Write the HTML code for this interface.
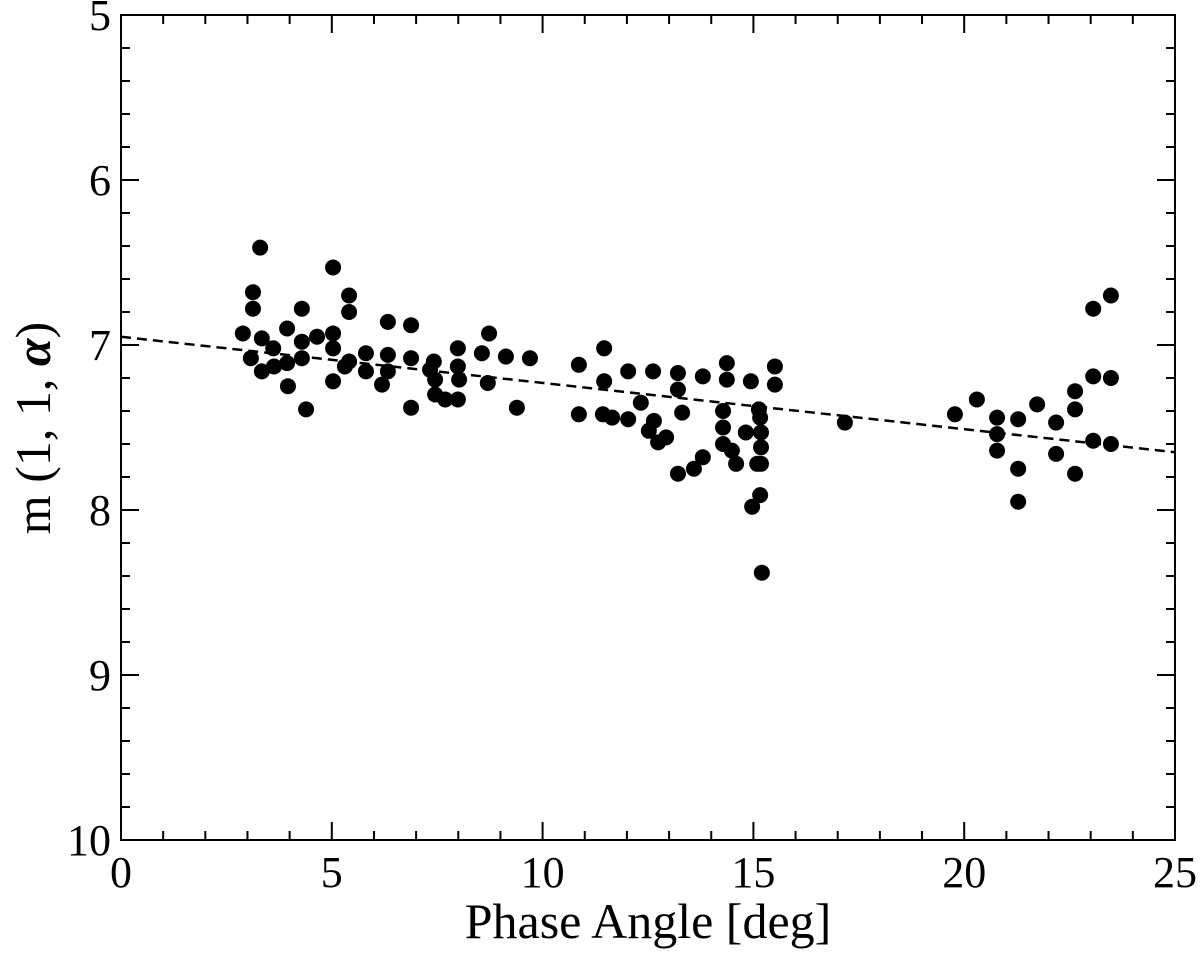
<!DOCTYPE html>
<html><head><meta charset="utf-8"><style>
html,body{margin:0;padding:0;background:#fff}
svg text{font-family:"Liberation Serif",serif;fill:#000}
</style></head><body>
<svg id="chart" width="1200" height="959" viewBox="0 0 1200 959" xmlns="http://www.w3.org/2000/svg">
<g id="ticks"></g>
<g id="labels"></g>
<line id="fit" stroke="#000" stroke-width="2.5" stroke-dasharray="10,6"/>
<g id="points"></g>
<rect x="121" y="15" width="1054" height="825" fill="none" stroke="#000" stroke-width="2"/>
<text x="648" y="938" font-size="50" text-anchor="middle">Phase Angle [deg]</text>
<text transform="translate(50,428) rotate(-90)" font-size="50" text-anchor="middle">m (1, 1, <tspan font-style="italic" font-weight="bold">α</tspan>)</text>
</svg>
<script>
const phaseAngle=[3.30,3.13,3.13,2.89,3.08,3.34,3.34,3.61,3.63,3.94,3.94,3.96,4.29,4.29,4.29,4.39,4.65,5.03,5.03,5.03,5.03,5.41,5.41,5.41,5.31,5.81,5.81,6.19,6.33,6.33,6.33,6.88,6.88,6.88,7.42,7.33,7.45,7.45,7.69,7.99,7.99,7.99,8.02,8.56,8.73,8.70,9.13,9.39,9.70,10.86,10.86,11.46,11.46,11.43,11.65,12.03,12.03,12.33,12.62,12.64,12.52,12.74,12.93,13.21,13.21,13.31,13.21,13.80,13.80,13.59,14.37,14.37,14.28,14.28,14.28,14.49,14.59,14.82,14.94,15.13,15.16,15.18,15.18,15.09,15.18,15.16,14.97,15.20,15.51,15.51,17.17,19.78,20.30,20.78,20.78,20.78,21.28,21.28,21.28,21.73,22.18,22.18,22.63,22.63,22.63,23.06,23.06,23.06,23.48,23.48,23.48];
const reducedMag=[6.41,6.68,6.78,6.93,7.08,6.96,7.16,7.02,7.13,6.90,7.11,7.25,6.78,6.98,7.08,7.39,6.95,6.53,6.93,7.02,7.22,6.70,6.80,7.10,7.13,7.05,7.16,7.24,6.86,7.06,7.16,6.88,7.08,7.38,7.10,7.15,7.21,7.30,7.33,7.33,7.02,7.13,7.21,7.05,6.93,7.23,7.07,7.38,7.08,7.12,7.42,7.02,7.22,7.42,7.44,7.16,7.45,7.35,7.16,7.46,7.52,7.59,7.56,7.17,7.27,7.41,7.78,7.19,7.68,7.75,7.11,7.21,7.40,7.50,7.60,7.64,7.72,7.53,7.22,7.39,7.44,7.53,7.62,7.72,7.72,7.91,7.98,8.38,7.13,7.24,7.47,7.42,7.33,7.44,7.54,7.64,7.45,7.75,7.95,7.36,7.47,7.66,7.28,7.39,7.78,6.78,7.19,7.58,6.70,7.20,7.60];
const fitIntercept=[6.95];
const fitSlope=[0.028];
const xTicks=[0,5,10,15,20,25];
const yTicks=[5,6,7,8,9,10];
const NS="http://www.w3.org/2000/svg";
const X0=121,X1=1175,Y0=15,Y1=840;
const xs=v=>X0+(v-0)/(25-0)*(X1-X0);
const ys=v=>Y0+(v-5)/(10-5)*(Y1-Y0);
function mk(tag,attrs,parent){const e=document.createElementNS(NS,tag);for(const k in attrs)e.setAttribute(k,attrs[k]);parent.appendChild(e);return e;}
const tg=document.getElementById('ticks');
for(let i=0;i<=25;i++){const x=xs(i);const L=i%5===0?18:9;
 mk('line',{x1:x,x2:x,y1:Y1,y2:Y1-L,stroke:'#000','stroke-width':2},tg);
 mk('line',{x1:x,x2:x,y1:Y0,y2:Y0+L,stroke:'#000','stroke-width':2},tg);}
for(let i=0;i<=25;i++){const v=5+i*0.2;const y=ys(v);const L=i%5===0?18:9;
 mk('line',{x1:X0,x2:X0+L,y1:y,y2:y,stroke:'#000','stroke-width':2},tg);
 mk('line',{x1:X1,x2:X1-L,y1:y,y2:y,stroke:'#000','stroke-width':2},tg);}
const lg=document.getElementById('labels');
xTicks.forEach(v=>{const t=mk('text',{x:xs(v),y:887,'font-size':44,'text-anchor':'middle'},lg);


t.textContent=v;});
yTicks.forEach(v=>{const t=mk('text',{x:111,y:ys(v)+15,'font-size':44,'text-anchor':'end'},lg);


t.textContent=v;});
const fit=document.getElementById('fit');
fit.setAttribute('x1',xs(0));fit.setAttribute('y1',ys(fitIntercept[0]));
fit.setAttribute('x2',xs(25));fit.setAttribute('y2',ys(fitIntercept[0]+fitSlope[0]*25));
const pg=document.getElementById('points');
phaseAngle.forEach((a,i)=>{const c=mk('circle',{cx:xs(a),cy:ys(reducedMag[i]),r:8,fill:'#000'},pg);

});
</script>
</body></html>
